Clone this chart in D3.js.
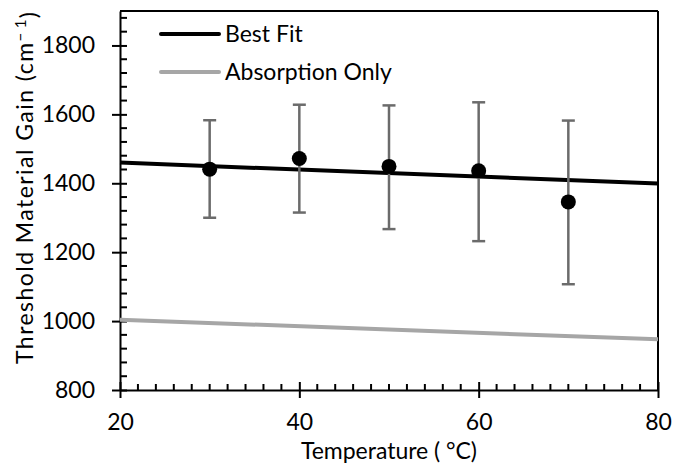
<!DOCTYPE html>
<html>
<head>
<meta charset="utf-8">
<script src="https://cdn.jsdelivr.net/npm/d3@7"></script>
<style>
  html, body { margin: 0; padding: 0; background: #fff; }
  svg text { font-family: Lato, "Open Sans", sans-serif; fill: #000; }
</style>
</head>
<body>
<svg id="chart" width="688" height="470"></svg>
<script>
// ---- data ----
const temperatures = [30, 40, 50, 60, 70];
const gainValues   = [1441, 1472, 1449, 1436, 1346];
const errorUpper   = [1583, 1628, 1626, 1635, 1582];
const errorLower   = [1300, 1315, 1267, 1232, 1107];
const fitX         = [20, 80];
const bestFitY     = [1460, 1399];
const absorptionY  = [1004, 947];
const xTicks       = [20, 40, 60, 80];
const yTicks       = [800, 1000, 1200, 1400, 1600, 1800];
const legendLabels = ["Best Fit", "Absorption Only"];

// ---- layout ----
const svg = d3.select("#chart");
const margin = { left: 120, right: 30, top: 11, bottom: 80 };
const W = 688, H = 470;
const FS = 23;
const x = d3.scaleLinear().domain([20, 80]).range([margin.left, W - margin.right]);
const y = d3.scaleLinear().domain([800, 1900]).range([H - margin.bottom, margin.top]);

const x0 = x.range()[0], x1 = x.range()[1];
const yb = y.range()[0], yt = y.range()[1];

// frame (top and right)
svg.append("line").attr("x1", x0).attr("x2", x1).attr("y1", yt).attr("y2", yt)
  .attr("stroke", "#000").attr("stroke-width", 2);
svg.append("line").attr("x1", x1).attr("x2", x1).attr("y1", yt).attr("y2", yb)
  .attr("stroke", "#000").attr("stroke-width", 2);

// minor ticks
const xMinor = d3.range(22, 80, 2).filter(v => v % 20 !== 0);
svg.append("g").selectAll("line").data(xMinor).join("line")
  .attr("x1", d => x(d)).attr("x2", d => x(d))
  .attr("y1", yb).attr("y2", yb - 6)
  .attr("stroke", "#000").attr("stroke-width", 2);
const yMinor = d3.range(840, 1900, 40).filter(v => v % 200 !== 0);
svg.append("g").selectAll("line").data(yMinor).join("line")
  .attr("x1", x0).attr("x2", x0 + 7)
  .attr("y1", d => y(d)).attr("y2", d => y(d))
  .attr("stroke", "#000").attr("stroke-width", 2);

// x axis
const xAxis = svg.append("g").attr("transform", `translate(0,${yb})`)
  .call(d3.axisBottom(x).tickValues(xTicks).tickSize(8).tickSizeOuter(0));
xAxis.select(".domain").attr("stroke-width", 2);
xAxis.selectAll(".tick line").attr("y1", -8).attr("y2", 8).attr("stroke-width", 2);
xAxis.selectAll(".tick text").attr("y", 40).attr("dy", null)
  .style("font-size", FS + "px").style("font-family", "Lato, sans-serif");

// y axis
const yAxis = svg.append("g").attr("transform", `translate(${x0},0)`)
  .call(d3.axisLeft(y).tickValues(yTicks).tickSize(8).tickSizeOuter(0).tickFormat(d3.format("d")));
yAxis.select(".domain").attr("stroke-width", 2);
yAxis.selectAll(".tick line").attr("x1", -8).attr("x2", 7).attr("stroke-width", 2);
yAxis.selectAll(".tick text").attr("x", -25)
  .style("font-size", FS + "px").style("font-family", "Lato, sans-serif");

// lines
const line = d3.line().x(d => x(d[0])).y(d => y(d[1]));
svg.append("path").datum(fitX.map((v, i) => [v, absorptionY[i]]))
  .attr("d", line).attr("fill", "none").attr("stroke", "#a6a6a6").attr("stroke-width", 4);
svg.append("path").datum(fitX.map((v, i) => [v, bestFitY[i]]))
  .attr("d", line).attr("fill", "none").attr("stroke", "#000").attr("stroke-width", 4);

// error bars
const eb = svg.append("g").attr("stroke", "#6b6b6b").attr("stroke-width", 2.5);
temperatures.forEach((t, i) => {
  eb.append("line").attr("x1", x(t)).attr("x2", x(t)).attr("y1", y(errorUpper[i])).attr("y2", y(errorLower[i]));
  eb.append("line").attr("x1", x(t) - 6.5).attr("x2", x(t) + 6.5).attr("y1", y(errorUpper[i])).attr("y2", y(errorUpper[i]));
  eb.append("line").attr("x1", x(t) - 6.5).attr("x2", x(t) + 6.5).attr("y1", y(errorLower[i])).attr("y2", y(errorLower[i]));
});

// points
svg.append("g").selectAll("circle").data(temperatures).join("circle")
  .attr("cx", d => x(d)).attr("cy", (d, i) => y(gainValues[i])).attr("r", 7.5).attr("fill", "#000");

// legend
const legColors = ["#000", "#a6a6a6"];
legendLabels.forEach((lab, i) => {
  const ly = 34 + i * 38;
  svg.append("line").attr("x1", 161).attr("x2", 219).attr("y1", ly).attr("y2", ly)
    .attr("stroke", legColors[i]).attr("stroke-width", 4).attr("stroke-linecap", "round");
  svg.append("text").attr("x", 225).attr("y", ly + 8)
    .style("font-size", FS + "px").text(lab);
});

// axis titles
svg.append("text").attr("x", (x0 + x1) / 2).attr("y", 459).attr("text-anchor", "middle")
  .attr("textLength", 176).attr("lengthAdjust", "spacing")
  .style("font-size", FS + "px").text("Temperature ( °C)");
const yt2 = svg.append("text").attr("transform", `translate(33,188) rotate(-90)`)
  .attr("text-anchor", "middle").attr("textLength", 352).attr("lengthAdjust", "spacing")
  .style("font-size", FS + "px");
yt2.append("tspan").text("Threshold Material Gain (cm");
yt2.append("tspan").attr("dy", "-0.45em").style("font-size", "15px").text("−");
yt2.append("tspan").attr("dx", 3).style("font-size", "15px").text("1");
yt2.append("tspan").attr("dy", "0.45em").text(")");
</script>
</body>
</html>
